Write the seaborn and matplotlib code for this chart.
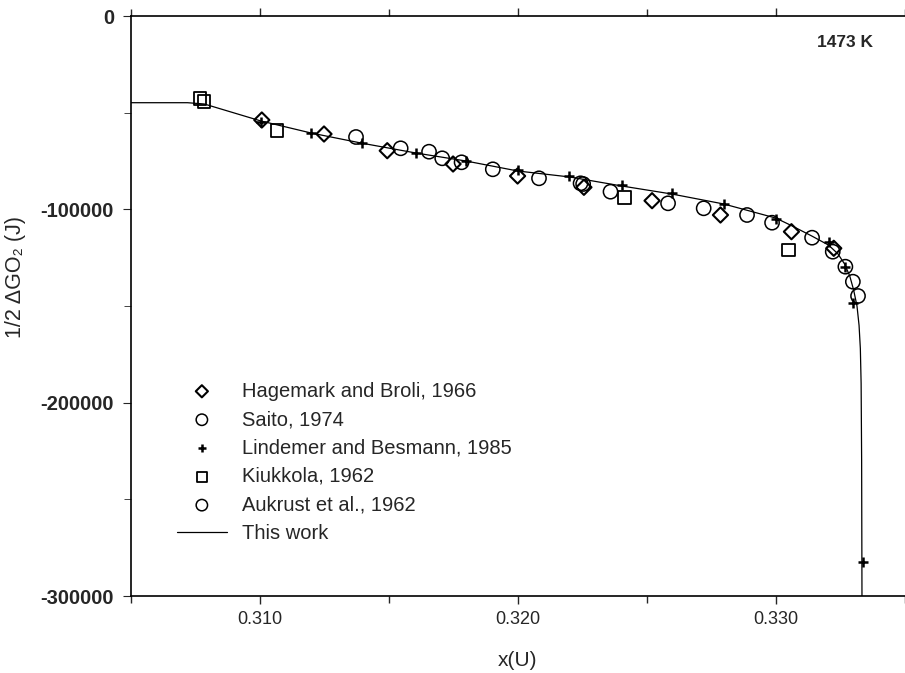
import matplotlib
matplotlib.use("Agg")
import matplotlib.pyplot as plt
import seaborn as sns
import pandas as pd
from matplotlib.ticker import MultipleLocator, FuncFormatter

# ---------------- data ----------------
hag_x = [0.31008, 0.31249, 0.31494, 0.31749, 0.31999, 0.32256, 0.32520, 0.32785, 0.33060, 0.33224]
hag_y = [-53789, -61030, -69667, -76546, -82752, -88596, -95527, -102923, -111560, -120146]

saito_x = [0.31373, 0.31546, 0.31656, 0.31707, 0.31782, 0.31903, 0.32082, 0.32243, 0.32359,
           0.32582, 0.32720, 0.32888, 0.32985]
saito_y = [-62581, -68426, -70184, -73598, -75666, -79287, -83942, -86528, -90872,
           -96872, -99458, -102923, -106905]

lind_x = [0.31005, 0.31199, 0.31395, 0.31604, 0.31800, 0.32001, 0.32200, 0.32402, 0.32598,
          0.32798, 0.33000, 0.33204, 0.33269, 0.33297, 0.33336]
lind_y = [-54823, -60668, -65840, -70701, -74994, -79649, -82752, -87407, -91700,
          -97389, -104992, -116732, -129662, -148281, -282391]

kiuk_x = [0.30768, 0.30785, 0.31066, 0.32414, 0.33049]
kiuk_y = [-42566, -44324, -59323, -93768, -121025]

auk_x = [0.32253, 0.33140, 0.33220, 0.33269, 0.33298, 0.33318]
auk_y = [-86890, -114663, -121904, -129662, -137420, -144816]

fit_x = [0.3050, 0.3072, 0.30785, 0.31005, 0.31199, 0.31392, 0.31605, 0.31799, 0.32000,
         0.32202, 0.32403, 0.32596, 0.32798, 0.32999, 0.33057, 0.33139, 0.33204, 0.33240,
         0.33266, 0.33286, 0.33301, 0.33314, 0.33322, 0.33327, 0.33330, 0.33332, 0.333333]
fit_y = [-44840, -44840, -45500, -54306, -60512, -65684, -70856, -74994, -80166,
         -83269, -87924, -92061, -97234, -104492, -108200, -113800, -118500, -123000,
         -128266, -134500, -141713, -150000, -160000, -172000, -190000, -230000, -300000]

labels = ["Hagemark and Broli, 1966", "Saito, 1974", "Lindemer and Besmann, 1985",
          "Kiukkola, 1962", "Aukrust et al., 1962", "This work"]

# ---------------- plot ----------------
sns.set_style("ticks")
plt.rcParams['font.family'] = ['Liberation Sans', 'DejaVu Sans']

fig = plt.figure(figsize=(9.05, 6.73), dpi=100)
ax = fig.add_axes([0.1444, 0.1144, 0.8556, 0.8618])

common = dict(ax=ax, legend=False)
sns.scatterplot(x=hag_x, y=hag_y, marker='D', s=60, facecolor='none', edgecolor='black',
                linewidth=1.5, label=labels[0], **common)
sns.scatterplot(x=saito_x, y=saito_y, marker='o', s=105, facecolor='none', edgecolor='black',
                linewidth=1.1, label=labels[1], **common)
sns.scatterplot(x=lind_x, y=lind_y, marker='+', s=60, color='black',
                linewidth=1.8, label=labels[2], **common)
sns.scatterplot(x=kiuk_x, y=kiuk_y, marker='s', s=80, facecolor='none', edgecolor='black',
                linewidth=1.3, label=labels[3], **common)
sns.scatterplot(x=auk_x, y=auk_y, marker='o', s=105, facecolor='none', edgecolor='black',
                linewidth=1.1, label=labels[4], **common)
sns.lineplot(x=fit_x, y=fit_y, sort=False, estimator=None, color='black', linewidth=0.9,
             label=labels[5], **common)

ax.set_xlim(0.305, 0.335)
ax.set_ylim(-300000, 0)
ax.xaxis.set_major_locator(MultipleLocator(0.01))
ax.xaxis.set_minor_locator(MultipleLocator(0.005))
ax.yaxis.set_major_locator(MultipleLocator(100000))
ax.yaxis.set_minor_locator(MultipleLocator(50000))
ax.xaxis.set_major_formatter(FuncFormatter(lambda v, p: f"{v:.3f}"))
ax.yaxis.set_major_formatter(FuncFormatter(lambda v, p: f"{int(round(v))}"))

for s in ['left', 'bottom', 'top']:
    ax.spines[s].set_linewidth(1.2)
    ax.spines[s].set_color('black')
ax.spines['right'].set_visible(False)

ax.tick_params(axis='x', which='both', top=True, bottom=True, direction='out', width=1.0)
ax.tick_params(axis='x', which='major', length=6, labelsize=13, pad=5)
ax.tick_params(axis='x', which='minor', length=5)
ax.tick_params(axis='y', which='major', length=6, labelsize=14.5, pad=6)
ax.tick_params(axis='y', which='minor', length=5)
ax.tick_params(axis='x', which='both', labeltop=False)
for t in ax.get_yticklabels():
    t.set_fontweight('bold')

ax.set_xlabel("x(U)", fontsize=15, labelpad=16)
ax.set_ylabel("1/2 \u0394GO\u2082 (J)", fontsize=15.5, labelpad=8)
ax.yaxis.set_label_coords(-0.135, 0.55)

ax.text(0.922, 0.955, "1473 K", transform=ax.transAxes, fontsize=12.5, fontweight='bold',
        ha='center', va='center')

handles, labs = ax.get_legend_handles_labels()
order = [labs.index(l) for l in labels]
leg = ax.legend([handles[i] for i in order], [labs[i] for i in order],
                loc='upper left', bbox_to_anchor=(0.036, 0.401), frameon=False,
                fontsize=14.5, handlelength=2.5, handletextpad=0.75, labelspacing=0.47,
                markerscale=0.8, scatterpoints=1)

fig.savefig("out.png", dpi=100)
